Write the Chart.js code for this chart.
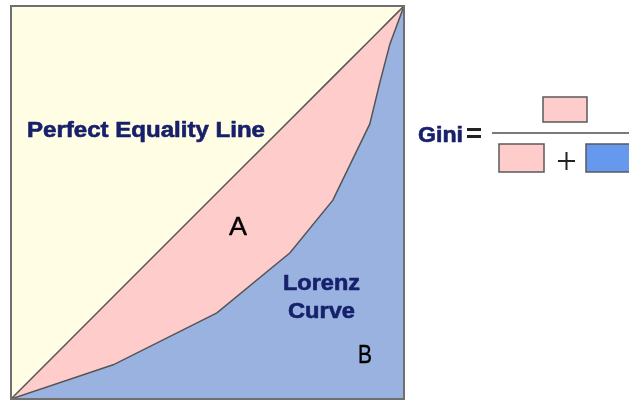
<!DOCTYPE html>
<html>
<head>
<meta charset="utf-8">
<script src="https://cdn.jsdelivr.net/npm/chart.js@4/dist/chart.umd.min.js"></script>
<style>
html,body{margin:0;padding:0;background:#fff;}
#wrap{width:629px;height:401px;position:relative;}
</style>
</head>
<body>
<div id="wrap"><canvas id="c" width="629" height="401"></canvas></div>
<script>
// Cumulative share of population (%)
const populationShare = [0, 26, 52.4, 71.0, 81.9, 91.3, 93.9, 96.4, 100];
// Cumulative share of income (%) - Lorenz curve
const incomeShare = [0, 8.7, 21.9, 37.2, 50.6, 70.0, 80.7, 90.3, 100];
// Perfect equality line
const equalityShare = populationShare.slice();

const labels = {
  equality: 'Perfect Equality Line',
  lorenz1: 'Lorenz',
  lorenz2: 'Curve',
  areaA: 'A',
  areaB: 'B',
  gini: 'Gini'
};

const YELLOW = '#FFFDE3';
const PINK = '#FFCCCC';
const BLUE = '#99B2E0';
const LINE = '#555555';
const NAVY = '#17206B';
const FAM = '"Liberation Sans", Arial, sans-serif';

const lorenzPts = populationShare.map((x, i) => ({x, y: incomeShare[i]}));
const equalPts = populationShare.map((x, i) => ({x, y: equalityShare[i]}));

function fitText(ctx, text, left, baseline, font, color, width, stroke) {
  ctx.save();
  ctx.font = font;
  ctx.fillStyle = color;
  ctx.strokeStyle = color;
  ctx.textBaseline = 'alphabetic';
  ctx.textAlign = 'left';
  const w = ctx.measureText(text).width;
  ctx.translate(left, baseline);
  if (width) ctx.scale(width / w, 1);
  ctx.fillText(text, 0, 0);
  if (stroke) { ctx.lineWidth = stroke; ctx.lineJoin = 'round'; ctx.strokeText(text, 0, 0); }
  ctx.restore();
}

const decor = {
  id: 'decor',
  afterDatasetsDraw(chart) {
    const ctx = chart.ctx;
    const a = chart.chartArea;
    // frame
    ctx.save();
    ctx.strokeStyle = '#6f6f6f';
    ctx.lineWidth = 2;
    ctx.strokeRect(a.left, a.top, a.right - a.left, a.bottom - a.top);
    ctx.restore();

    fitText(ctx, labels.equality, 27, 137, 'bold 22px ' + FAM, NAVY, 238, 0.6);
    fitText(ctx, labels.lorenz1, 283, 290, 'bold 22px ' + FAM, NAVY, 77, 0.6);
    fitText(ctx, labels.lorenz2, 288, 318, 'bold 22px ' + FAM, NAVY, 67, 0.6);
    fitText(ctx, labels.areaA, 229, 235, '25px ' + FAM, '#000', 18, 0.4);
    fitText(ctx, labels.areaB, 358, 363, '25px ' + FAM, '#000', 14, 0.4);

    // Gini formula
    fitText(ctx, labels.gini, 418, 142, 'bold 22px ' + FAM, NAVY, 45, 0.6);
    ctx.save();
    ctx.fillStyle = '#222';
    ctx.fillRect(467, 128, 14, 3);
    ctx.fillRect(467, 135, 14, 3);
    // fraction bar
    ctx.fillStyle = '#7a7a7a';
    ctx.fillRect(492, 132, 137, 2);
    // boxes
    ctx.lineWidth = 1.5;
    ctx.strokeStyle = '#5a5a5a';
    ctx.fillStyle = PINK;
    ctx.fillRect(543, 97, 44, 25); ctx.strokeRect(543, 97, 44, 25);
    ctx.fillRect(499, 144, 45, 28); ctx.strokeRect(499, 144, 45, 28);
    ctx.fillStyle = '#6699EE';
    ctx.fillRect(586, 144, 50, 28); ctx.strokeRect(586, 144, 50, 28);
    // plus
    ctx.fillStyle = '#222';
    ctx.fillRect(558, 160, 17, 2);
    ctx.fillRect(565.5, 152, 2, 18);
    ctx.restore();
  }
};

function build() {
  new Chart(document.getElementById('c'), {
    type: 'line',
    data: {
      datasets: [
        { // yellow above equality line
          data: equalPts, borderColor: 'rgba(0,0,0,0)', borderWidth: 0,
          backgroundColor: YELLOW, fill: 'end', pointRadius: 0, order: 3
        },
        { // pink between equality line and Lorenz curve
          data: equalPts, borderColor: LINE, borderWidth: 1.5,
          backgroundColor: PINK, fill: 2, pointRadius: 0, order: 2
        },
        { // Lorenz curve, blue below
          data: lorenzPts, borderColor: LINE, borderWidth: 1.5,
          backgroundColor: BLUE, fill: 'start', pointRadius: 0, order: 1
        }
      ]
    },
    options: {
      responsive: false,
      animation: false,
      layout: { padding: { left: 11, top: 6, right: 225, bottom: 2 } },
      plugins: { legend: { display: false }, tooltip: { enabled: false } },
      scales: {
        x: { type: 'linear', min: 0, max: 100, display: false },
        y: { type: 'linear', min: 0, max: 100, display: false }
      },
      elements: { line: { tension: 0 } }
    },
    plugins: [decor]
  });
}

Promise.all([
  document.fonts.load('bold 22px "Liberation Sans"'),
  document.fonts.load('25px "Liberation Sans"')
]).then(build, build);
</script>
</body>
</html>
